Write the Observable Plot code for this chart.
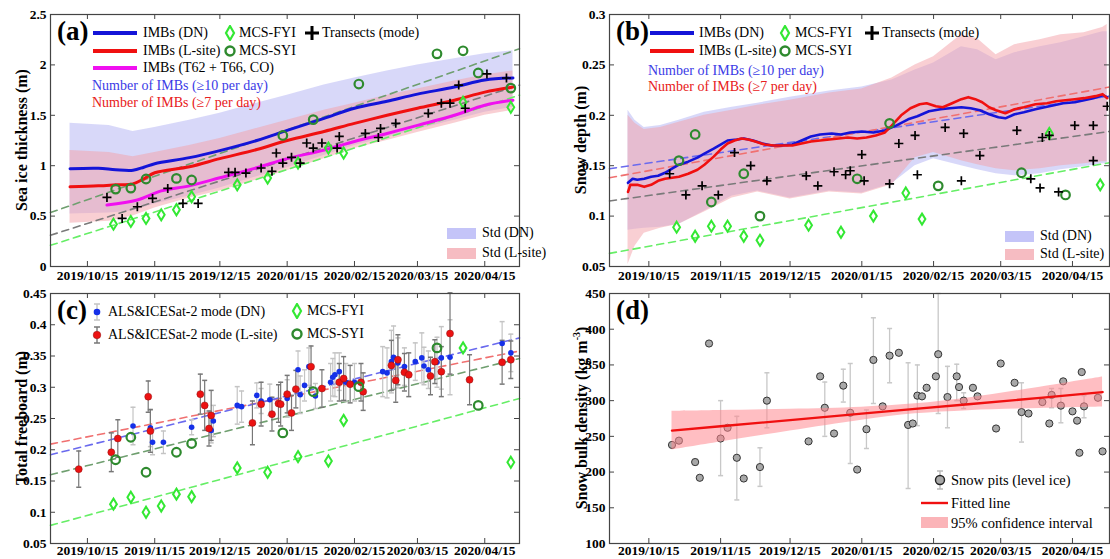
<!DOCTYPE html>
<html><head><meta charset="utf-8">
<script src="https://cdn.jsdelivr.net/npm/d3@7"></script>
<script src="https://cdn.jsdelivr.net/npm/@observablehq/plot@0.6"></script>
<style>
body{margin:0;background:#fff;font-family:"Liberation Serif","Times New Roman",serif;}
#wrap{position:relative;width:1110px;height:559px;overflow:hidden;background:#fff;}
#wrap svg{position:absolute;}
.t{position:absolute;white-space:nowrap;line-height:1;transform:translateY(-50%);font-size:14px;color:#000;}
.rot{position:absolute;white-space:nowrap;line-height:1;font-weight:bold;font-size:16px;transform:translate(-50%,-50%) rotate(-90deg);}
.let{position:absolute;font-weight:bold;font-size:27px;line-height:1;}
</style></head>
<body><div id="wrap"></div>
<script>
// ---------- shared axis data ----------
const xDomain = ["2019-09-28", "2020-05-01"];
const xTicks = ["2019-10-15","2019-11-15","2019-12-15","2020-01-15","2020-02-15","2020-03-15","2020-04-15"];
const yTicksA = [0, 0.5, 1, 1.5, 2, 2.5];
const yTicksB = [0.05, 0.1, 0.15, 0.2, 0.25, 0.3];
const yTicksC = [0.05, 0.1, 0.15, 0.2, 0.25, 0.3, 0.35, 0.4, 0.45];
const yTicksD = [100, 150, 200, 250, 300, 350, 400, 450];

// ---------- panel (a): sea ice thickness ----------
const aImbDates = ["2019-10-07","2019-10-20","2019-10-28","2019-11-05","2019-11-10","2019-11-15","2019-12-01","2019-12-15","2020-01-01","2020-01-15","2020-02-01","2020-02-15","2020-03-01","2020-03-15","2020-04-01","2020-04-15","2020-04-28"];
const aDN    = [0.97,0.975,0.96,0.955,0.985,1.02,1.08,1.15,1.25,1.35,1.47,1.57,1.64,1.71,1.78,1.85,1.87];
const aLsite = [0.79,0.80,0.81,0.82,0.87,0.93,0.99,1.07,1.16,1.25,1.34,1.42,1.50,1.57,1.65,1.73,1.78];
const aCoDates = ["2019-10-24","2019-11-07","2019-11-18","2019-12-01","2019-12-15","2020-01-01","2020-01-15","2020-01-31","2020-02-15","2020-03-01","2020-03-15","2020-04-01","2020-04-15","2020-04-28"];
const aCo = [0.61,0.66,0.75,0.80,0.88,0.98,1.07,1.15,1.24,1.32,1.40,1.50,1.60,1.65];
const aBandDates = ["2019-10-07","2019-10-25","2019-11-05","2019-11-15","2019-12-01","2019-12-15","2020-01-01","2020-01-15","2020-02-01","2020-02-15","2020-03-01","2020-03-15","2020-04-01","2020-04-15","2020-04-28"];
const aDNup = [1.42,1.40,1.34,1.38,1.45,1.52,1.62,1.70,1.80,1.87,1.94,2.00,2.06,2.11,2.14];
const aDNlo = [0.52,0.53,0.55,0.62,0.70,0.78,0.89,0.98,1.10,1.20,1.28,1.36,1.45,1.53,1.58];
const aLup  = [1.15,1.13,1.09,1.13,1.20,1.27,1.37,1.45,1.55,1.62,1.70,1.76,1.84,1.90,1.94];
const aLlo  = [0.43,0.45,0.50,0.58,0.68,0.75,0.86,0.95,1.07,1.17,1.25,1.33,1.42,1.50,1.55];
const fyiDates = ["2019-10-27","2019-11-04","2019-11-11","2019-11-18","2019-11-25","2019-12-02","2019-12-23","2020-01-06","2020-01-20","2020-02-03","2020-02-10","2020-04-05","2020-04-27"];
const aFyi = [0.42,0.447,0.477,0.513,0.563,0.692,0.81,0.877,1.027,1.175,1.126,1.63,1.58];
const syiDatesA = ["2019-10-28","2019-11-04","2019-11-11","2019-11-25","2019-12-02","2020-01-13","2020-01-27","2020-02-17","2020-03-24","2020-04-05","2020-04-12","2020-04-27"];
const aSyi = [0.768,0.778,0.868,0.874,0.858,1.30,1.457,1.81,2.11,2.14,1.92,1.77];
const aTrDates = ["2019-10-24","2019-10-31","2019-11-07","2019-11-14","2019-11-21","2019-11-28","2019-12-05","2019-12-19","2019-12-22","2019-12-27","2020-01-03","2020-01-08","2020-01-10","2020-01-13","2020-01-17","2020-01-21","2020-01-24","2020-01-27","2020-01-31","2020-02-07","2020-02-08","2020-02-20","2020-02-26","2020-02-27","2020-03-05","2020-03-20","2020-03-26","2020-03-30","2020-04-03","2020-04-06","2020-04-16","2020-04-25"];
const aTr = [0.685,0.477,0.593,0.675,0.775,0.626,0.626,0.934,0.934,0.927,0.977,0.944,1.126,1.026,1.083,1.026,1.225,1.175,1.225,1.175,1.29,1.32,1.28,1.37,1.42,1.52,1.62,1.62,1.80,1.57,1.91,1.87];
const aFitSyi = [0.535, 2.16];
const aFitTr  = [0.31, 1.80];
const aFitFyi = [0.21, 1.70];

// ---------- panel (b): snow depth ----------
const bDNDates = ["2019-10-06","2019-10-08","2019-10-10","2019-10-13","2019-10-16","2019-10-19","2019-10-22","2019-10-25","2019-10-28","2019-11-01","2019-11-05","2019-11-08","2019-11-12","2019-11-15","2019-11-18","2019-11-22","2019-11-25","2019-11-29","2019-12-03","2019-12-07","2019-12-11","2019-12-16","2019-12-20","2019-12-24","2019-12-28","2020-01-02","2020-01-06","2020-01-10","2020-01-15","2020-01-20","2020-01-25","2020-01-30","2020-02-04","2020-02-08","2020-02-13","2020-02-18","2020-02-22","2020-02-27","2020-03-02","2020-03-06","2020-03-10","2020-03-14","2020-03-17","2020-03-21","2020-03-25","2020-03-30","2020-04-03","2020-04-07","2020-04-11","2020-04-16","2020-04-20","2020-04-24","2020-04-28","2020-04-30"];
const bDN = [0.133,0.137,0.136,0.137,0.139,0.140,0.143,0.147,0.151,0.154,0.158,0.162,0.167,0.171,0.175,0.176,0.177,0.175,0.172,0.170,0.170,0.171,0.175,0.179,0.181,0.182,0.181,0.183,0.184,0.183,0.185,0.190,0.196,0.199,0.204,0.206,0.207,0.208,0.207,0.205,0.201,0.198,0.197,0.201,0.203,0.206,0.208,0.210,0.212,0.213,0.215,0.217,0.220,0.218];
const bLDates = ["2019-10-06","2019-10-07","2019-10-10","2019-10-13","2019-10-16","2019-10-19","2019-10-22","2019-10-25","2019-10-28","2019-11-01","2019-11-05","2019-11-08","2019-11-12","2019-11-15","2019-11-18","2019-11-21","2019-11-24","2019-11-27","2019-11-30","2019-12-04","2019-12-08","2019-12-12","2019-12-16","2019-12-20","2019-12-24","2019-12-28","2020-01-01","2020-01-05","2020-01-09","2020-01-13","2020-01-17","2020-01-21","2020-01-25","2020-01-28","2020-02-01","2020-02-05","2020-02-09","2020-02-12","2020-02-16","2020-02-19","2020-02-23","2020-02-27","2020-03-01","2020-03-04","2020-03-07","2020-03-10","2020-03-13","2020-03-17","2020-03-21","2020-03-25","2020-03-30","2020-04-04","2020-04-08","2020-04-12","2020-04-16","2020-04-20","2020-04-25","2020-04-28","2020-04-30"];
const bL = [0.124,0.131,0.131,0.129,0.131,0.135,0.137,0.138,0.139,0.142,0.146,0.151,0.159,0.166,0.172,0.175,0.177,0.176,0.174,0.171,0.170,0.170,0.170,0.172,0.174,0.175,0.176,0.177,0.178,0.177,0.178,0.180,0.183,0.190,0.200,0.207,0.211,0.212,0.209,0.208,0.212,0.216,0.218,0.216,0.213,0.208,0.205,0.202,0.206,0.208,0.211,0.212,0.214,0.215,0.216,0.217,0.219,0.221,0.217];
const bBandDates = ["2019-10-06","2019-10-09","2019-10-13","2019-10-20","2019-10-28","2019-11-08","2019-11-20","2019-12-01","2019-12-15","2020-01-01","2020-01-15","2020-01-28","2020-02-07","2020-02-15","2020-02-27","2020-03-05","2020-03-13","2020-03-21","2020-04-01","2020-04-10","2020-04-20","2020-04-28","2020-04-30"];
const bDNup = [0.205,0.195,0.188,0.190,0.195,0.203,0.208,0.212,0.218,0.224,0.228,0.235,0.245,0.252,0.268,0.265,0.255,0.262,0.268,0.272,0.278,0.283,0.283];
const bDNlo = [0.086,0.087,0.088,0.089,0.092,0.105,0.120,0.125,0.118,0.125,0.123,0.132,0.150,0.157,0.150,0.146,0.142,0.140,0.142,0.146,0.149,0.152,0.152];
const bLup  = [0.200,0.192,0.186,0.188,0.193,0.200,0.205,0.210,0.215,0.222,0.226,0.237,0.250,0.258,0.280,0.276,0.260,0.270,0.275,0.280,0.282,0.287,0.290];
const bLlo  = [0.052,0.070,0.083,0.088,0.092,0.104,0.118,0.124,0.117,0.124,0.122,0.131,0.158,0.163,0.155,0.151,0.147,0.145,0.147,0.150,0.152,0.154,0.154];
const bFyi = [0.089,0.080,0.090,0.090,0.080,0.076,0.091,0.084,0.100,0.123,0.097,0.182,0.131];
const syiDatesB = ["2019-10-28","2019-11-04","2019-11-11","2019-11-25","2019-12-02","2020-01-13","2020-01-27","2020-02-17","2020-03-24","2020-04-12"];
const bSyi = [0.155,0.181,0.114,0.142,0.100,0.137,0.192,0.130,0.143,0.121];
const bTrDates = ["2019-10-24","2019-10-31","2019-11-07","2019-11-14","2019-11-21","2019-11-28","2019-12-05","2019-12-22","2019-12-27","2020-01-03","2020-01-08","2020-01-10","2020-01-15","2020-01-16","2020-01-27","2020-01-31","2020-02-07","2020-02-08","2020-02-20","2020-02-27","2020-02-28","2020-03-06","2020-03-22","2020-03-28","2020-04-01","2020-04-02","2020-04-05","2020-04-09","2020-04-16","2020-04-24","2020-04-24","2020-04-30"];
const bTr = [0.142,0.121,0.130,0.121,0.163,0.150,0.135,0.140,0.130,0.144,0.141,0.145,0.161,0.135,0.132,0.172,0.180,0.141,0.188,0.135,0.182,0.160,0.185,0.137,0.128,0.178,0.180,0.124,0.190,0.155,0.190,0.209];
const bFitDN = [0.147, 0.219];
const bFitL  = [0.138, 0.228];
const bFitTr = [0.115, 0.184];
const bFitFyi = [0.063, 0.153];

// ---------- panel (c): total freeboard ----------
const cDNDates = ["2019-11-05","2019-11-13","2019-11-14","2019-11-19","2019-12-02","2019-12-11","2019-12-12","2019-12-23","2019-12-25","2020-01-01","2020-01-03","2020-01-07","2020-01-15","2020-01-20","2020-01-21","2020-01-23","2020-01-25","2020-01-28","2020-02-04","2020-02-05","2020-02-06","2020-02-08","2020-02-11","2020-02-15","2020-02-28","2020-03-01","2020-03-03","2020-03-04","2020-03-06","2020-03-09","2020-03-14","2020-03-17","2020-03-18","2020-03-20","2020-03-24","2020-03-26","2020-03-30","2020-04-23","2020-04-27"];
const cDN    = [0.238,0.235,0.212,0.212,0.236,0.231,0.246,0.271,0.269,0.287,0.278,0.280,0.282,0.328,0.288,0.303,0.333,0.286,0.308,0.316,0.320,0.325,0.308,0.308,0.325,0.323,0.341,0.348,0.339,0.333,0.341,0.347,0.334,0.328,0.340,0.347,0.348,0.370,0.355];
const cDNerr = [0.030,0.030,0.020,0.018,0.012,0.020,0.025,0.030,0.025,0.020,0.020,0.025,0.030,0.030,0.030,0.025,0.030,0.020,0.030,0.030,0.035,0.030,0.030,0.030,0.040,0.040,0.050,0.050,0.040,0.030,0.030,0.040,0.030,0.030,0.040,0.050,0.060,0.035,0.030];
const cLDates = ["2019-10-11","2019-10-26","2019-10-29","2019-11-12","2019-11-13","2019-12-06","2019-12-08","2019-12-10","2019-12-11","2019-12-30","2020-01-03","2020-01-08","2020-01-11","2020-01-12","2020-01-15","2020-01-17","2020-01-19","2020-01-26","2020-01-31","2020-02-08","2020-02-10","2020-02-13","2020-02-18","2020-02-19","2020-03-03","2020-03-05","2020-03-06","2020-03-09","2020-03-11","2020-03-21","2020-03-23","2020-03-26","2020-03-30","2020-04-08","2020-04-23","2020-04-27"];
const cL    = [0.169,0.196,0.218,0.285,0.230,0.289,0.271,0.234,0.255,0.243,0.273,0.257,0.274,0.273,0.289,0.259,0.297,0.333,0.298,0.308,0.314,0.305,0.308,0.293,0.335,0.311,0.344,0.324,0.320,0.318,0.341,0.325,0.386,0.312,0.340,0.344];
const cLerr = [0.029,0.031,0.030,0.025,0.034,0.032,0.040,0.028,0.040,0.035,0.035,0.027,0.030,0.035,0.030,0.028,0.030,0.033,0.030,0.030,0.035,0.030,0.030,0.030,0.040,0.035,0.040,0.030,0.035,0.030,0.035,0.040,0.065,0.040,0.035,0.030];
const cFyi = [0.113,0.124,0.100,0.110,0.129,0.125,0.171,0.164,0.189,0.182,0.247,0.363,0.180];
const cSyi = [0.184,0.220,0.164,0.196,0.210,0.227,0.293,0.301,0.363,0.271];
const cFitDN = [0.192, 0.379];
const cFitL  = [0.209, 0.358];
const cFitSyi = [0.160, 0.346];
const cFitFyi = [0.079, 0.282];

// ---------- panel (d): snow bulk density ----------
const dDates = ["2019-10-25","2019-10-28","2019-11-04","2019-11-06","2019-11-10","2019-11-15","2019-11-18","2019-11-22","2019-11-25","2019-12-02","2019-12-05","2019-12-23","2019-12-28","2019-12-30","2020-01-03","2020-01-07","2020-01-10","2020-01-13","2020-01-17","2020-01-20","2020-01-24","2020-01-27","2020-01-31","2020-02-04","2020-02-06","2020-02-08","2020-02-10","2020-02-12","2020-02-16","2020-02-17","2020-02-21","2020-02-25","2020-02-26","2020-02-28","2020-03-03","2020-03-05","2020-03-13","2020-03-15","2020-03-21","2020-03-24","2020-03-27","2020-04-02","2020-04-05","2020-04-06","2020-04-10","2020-04-11","2020-04-15","2020-04-17","2020-04-18","2020-04-19","2020-04-20","2020-04-26","2020-04-28"];
const dRho = [238,244,214,192,380,247,262,220,191,207,300,243,334,290,254,321,283,203.5,260,357,292,363,367,266,268,307,306,318,334,365,305,334,319,300,318,306,261,352,325,284,282,298,268,308,293,327,285,272,227,340,292,304,229];
const dLo  = [null,null,210,null,null,195,null,161,null,180,262,null,null,250,null,298,212,null,233,296,null,325,null,177,null,265,null,null,null,282,262,300,null,289,null,null,null,null,null,242,null,null,null,290,269,null,null,null,null,null,276,null,null];
const dHi  = [null,null,218,null,null,300,null,278,null,234,339,null,null,326,null,344,352,null,287,416,null,401,null,353,null,350,null,null,null,450,348,351,null,311,null,null,null,null,null,325,null,null,null,317,317,null,null,null,null,null,307,null,null];
const dFitDates = ["2019-10-25","2019-11-15","2019-12-15","2020-01-15","2020-02-07","2020-03-01","2020-04-01","2020-04-28"];
const dFit   = [258,264.1,272.8,281.8,288.5,294.9,303.9,312];
const dCiLo  = [231,242.1,257.6,272.7,281.5,286.0,289.0,291];
const dCiHi  = [285,286.1,288.0,290.9,295.5,303.8,318.8,333];

// ---------- helpers ----------
const P = s => new Date(s + "T00:00:00Z");
const pts = (dates, vals) => dates.map((d, i) => ({x: P(d), y: vals[i]}));
const band = (dates, lo, hi) => dates.map((d, i) => ({x: P(d), lo: lo[i], hi: hi[i]}));
const fit = v => [{x: P(xDomain[0]), y: v[0]}, {x: P(xDomain[1]), y: v[1]}];
const errs = (dates, vals, e) => dates.map((d, i) => ({x: P(d), y: vals[i], lo: vals[i] - e[i], hi: vals[i] + e[i]}));

const plusSym = {draw(c, s){const r = Math.sqrt(s/Math.PI); c.moveTo(-r,0); c.lineTo(r,0); c.moveTo(0,-r); c.lineTo(0,r);}};
const capSym  = {draw(c, s){const r = Math.sqrt(s/Math.PI); c.moveTo(-r,0); c.lineTo(r,0);}};
const diaSym  = {draw(c, s){const r = Math.sqrt(s/Math.PI); const w = r*0.62; c.moveTo(0,-r); c.lineTo(w,0); c.lineTo(0,r); c.lineTo(-w,0); c.closePath();}};

const C = {blue:"#1414d8", red:"#f01010", mag:"#f010f0", fyi:"#33e833", syi:"#2e8a2e",
  dnBand:"#a8a8f2", lBand:"#f3a0a8", dashDN:"#6a6aee", dashL:"#f07070", dashSyi:"#6f9f6f", dashTr:"#7a7a7a", dashFyi:"#66ee66"};
const dash = (data, color) => Plot.line(data, {x:"x", y:"y", stroke: color, strokeWidth: 1.6, strokeDasharray: "7,5"});
const fyiDots = data => Plot.dot(data, {x:"x", y:"y", symbol: diaSym, r: 5.5, stroke: C.fyi, strokeWidth: 2, fill: "none"});
const syiDots = data => Plot.dot(data, {x:"x", y:"y", r: 4.3, stroke: C.syi, strokeWidth: 2.2, fill: "none"});
const trDots = data => Plot.dot(data, {x:"x", y:"y", symbol: plusSym, r: 4.5, stroke: "#000", strokeWidth: 1.7, fill: "none"});

const wrap = document.getElementById("wrap");
function panel({left, top, width, height, ml, mr, mt, mb, pad, yDomain, yTicks, marks}) {
  const W = width - ml - mr, H = height - mt - mb;
  const xt = xTicks.map(P);
  const svg = Plot.plot({
    width, height, marginLeft: ml, marginRight: mr, marginTop: mt, marginBottom: mb,
    x: {type: "utc", domain: xDomain.map(P)},
    y: {domain: yDomain},
    style: {fontFamily: "'Liberation Serif', 'Times New Roman', serif", fontSize: "13.5px", fontWeight: "bold", color: "#000", background: "transparent", overflow: "visible"},
    marks: [
      ...marks,
      Plot.frame({stroke: "#444", strokeWidth: 1.2}),
      Plot.tickX(xt, {x: d => d, insetTop: H - 5, stroke: "#444"}),
      Plot.tickX(xt, {x: d => d, insetBottom: H - 5, stroke: "#444"}),
      Plot.tickY(yTicks, {y: d => d, insetRight: W - 5, stroke: "#444"}),
      Plot.tickY(yTicks, {y: d => d, insetLeft: W - 5, stroke: "#444"}),
      Plot.axisX(xt, {tickSize: 0, tickPadding: pad, tickFormat: d3.utcFormat("%Y/%m/%d"), label: null}),
      Plot.axisY(yTicks, {tickSize: 0, tickPadding: 4, tickFormat: d => String(d), label: null})
    ]
  });
  svg.style.left = left + "px"; svg.style.top = top + "px";
  wrap.appendChild(svg);
}

// (a)
panel({left: 0, top: 0, width: 545, height: 290, ml: 50, mr: 26, mt: 14, mb: 24, pad: 4, yDomain: [0, 2.5], yTicks: yTicksA, marks: [
  Plot.areaY(band(aBandDates, aDNlo, aDNup), {x: "x", y1: "lo", y2: "hi", fill: C.dnBand, fillOpacity: 0.45}),
  Plot.areaY(band(aBandDates, aLlo, aLup), {x: "x", y1: "lo", y2: "hi", fill: C.lBand, fillOpacity: 0.5}),
  dash(fit(aFitSyi), C.dashSyi), dash(fit(aFitTr), C.dashTr), dash(fit(aFitFyi), C.dashFyi),
  Plot.line(pts(aImbDates, aDN), {x: "x", y: "y", stroke: C.blue, strokeWidth: 3, curve: "catmull-rom"}),
  Plot.line(pts(aImbDates, aLsite), {x: "x", y: "y", stroke: C.red, strokeWidth: 3, curve: "catmull-rom"}),
  Plot.line(pts(aCoDates, aCo), {x: "x", y: "y", stroke: C.mag, strokeWidth: 3, curve: "catmull-rom"}),
  fyiDots(pts(fyiDates, aFyi)), syiDots(pts(syiDatesA, aSyi)), trDots(pts(aTrDates, aTr))
]});

// (b)
panel({left: 555, top: 0, width: 555, height: 290, ml: 54, mr: 1, mt: 14, mb: 24, pad: 4, yDomain: [0.05, 0.3], yTicks: yTicksB, marks: [
  Plot.areaY(band(bBandDates, bDNlo, bDNup), {x: "x", y1: "lo", y2: "hi", fill: C.dnBand, fillOpacity: 0.45}),
  Plot.areaY(band(bBandDates, bLlo, bLup), {x: "x", y1: "lo", y2: "hi", fill: C.lBand, fillOpacity: 0.5}),
  dash(fit(bFitDN), C.dashDN), dash(fit(bFitL), C.dashL), dash(fit(bFitTr), C.dashTr), dash(fit(bFitFyi), C.dashFyi),
  Plot.line(pts(bDNDates, bDN), {x: "x", y: "y", stroke: C.blue, strokeWidth: 2.6}),
  Plot.line(pts(bLDates, bL), {x: "x", y: "y", stroke: C.red, strokeWidth: 2.6}),
  fyiDots(pts(fyiDates, bFyi)), syiDots(pts(syiDatesB, bSyi)), trDots(pts(bTrDates, bTr))
]});

// (c)
const cDNe = errs(cDNDates, cDN, cDNerr), cLe = errs(cLDates, cL, cLerr);
panel({left: 0, top: 280, width: 545, height: 279, ml: 50, mr: 26, mt: 13, mb: 16, pad: 2, yDomain: [0.05, 0.45], yTicks: yTicksC, marks: [
  dash(fit(cFitL), C.dashL), dash(fit(cFitDN), C.dashDN), dash(fit(cFitSyi), C.dashSyi), dash(fit(cFitFyi), C.dashFyi),
  Plot.ruleX(cDNe, {x: "x", y1: "lo", y2: "hi", stroke: "#c4c4c4", strokeWidth: 1.2}),
  Plot.dot(cDNe, {x: "x", y: "lo", symbol: capSym, r: 2.5, stroke: "#c4c4c4", fill: "none"}),
  Plot.dot(cDNe, {x: "x", y: "hi", symbol: capSym, r: 2.5, stroke: "#c4c4c4", fill: "none"}),
  Plot.ruleX(cLe, {x: "x", y1: "lo", y2: "hi", stroke: "#777", strokeWidth: 1.2}),
  Plot.dot(cLe, {x: "x", y: "lo", symbol: capSym, r: 2.5, stroke: "#777", fill: "none"}),
  Plot.dot(cLe, {x: "x", y: "hi", symbol: capSym, r: 2.5, stroke: "#777", fill: "none"}),
  Plot.dot(cDNe, {x: "x", y: "y", r: 2.8, fill: "#1530e8", stroke: "none"}),
  Plot.dot(cLe, {x: "x", y: "y", r: 3.5, fill: "#ec1212", stroke: "#901010", strokeWidth: 0.5}),
  fyiDots(pts(fyiDates, cFyi)), syiDots(pts(syiDatesB, cSyi))
]});

// (d)
const dPts = dDates.map((d, i) => ({x: P(d), y: dRho[i], lo: dLo[i], hi: dHi[i]}));
const dErr = dPts.filter(d => d.lo != null);
panel({left: 555, top: 280, width: 555, height: 279, ml: 54, mr: 1, mt: 13, mb: 16, pad: 2, yDomain: [100, 450], yTicks: yTicksD, marks: [
  Plot.ruleX(dErr, {x: "x", y1: "lo", y2: "hi", stroke: "#c8c8c8", strokeWidth: 1.3}),
  Plot.dot(dErr, {x: "x", y: "lo", symbol: capSym, r: 2.5, stroke: "#c8c8c8", fill: "none"}),
  Plot.dot(dErr, {x: "x", y: "hi", symbol: capSym, r: 2.5, stroke: "#c8c8c8", fill: "none"}),
  Plot.dot(dPts, {x: "x", y: "y", r: 3.6, fill: "#a8a8a8", stroke: "#333", strokeWidth: 1}),
  Plot.areaY(band(dFitDates, dCiLo, dCiHi), {x: "x", y1: "lo", y2: "hi", fill: "#ff8890", fillOpacity: 0.55, curve: "catmull-rom"}),
  Plot.line(pts(dFitDates, dFit), {x: "x", y: "y", stroke: C.red, strokeWidth: 2.4})
]});

// ---------- text overlays & legends ----------
function txt(html, x, y, extra = "") {
  const d = document.createElement("div");
  d.className = "t"; d.innerHTML = html;
  d.style.cssText += `left:${x}px;top:${y}px;${extra}`;
  wrap.appendChild(d);
}
function icon(inner, x, y, w, h) {
  const s = document.createElementNS("http://www.w3.org/2000/svg", "svg");
  s.setAttribute("width", w); s.setAttribute("height", h);
  s.style.left = x + "px"; s.style.top = y + "px";
  s.innerHTML = inner; wrap.appendChild(s);
}
function rot(html, cx, cy) {
  const d = document.createElement("div"); d.className = "rot"; d.innerHTML = html;
  d.style.left = cx + "px"; d.style.top = cy + "px"; wrap.appendChild(d);
}
function letter(t, x, y) {
  const d = document.createElement("div"); d.className = "let"; d.textContent = t;
  d.style.left = x + "px"; d.style.top = y + "px"; wrap.appendChild(d);
}
const lineIc = (x, y, col) => icon(`<line x1="0" y1="4" x2="44" y2="4" stroke="${col}" stroke-width="4"/>`, x, y - 4, 44, 8);
const diaIc = (cx, cy) => icon(`<path d="M6,1 L10,8 L6,15 L2,8 Z" fill="none" stroke="${C.fyi}" stroke-width="2.2"/>`, cx - 6, cy - 8, 12, 16);
const cirIc = (cx, cy) => icon(`<circle cx="7" cy="7" r="4.5" fill="none" stroke="${C.syi}" stroke-width="2.4"/>`, cx - 7, cy - 7, 14, 14);
const plusIc = (cx, cy) => icon(`<path d="M1,8 H15 M8,1 V15" stroke="#000" stroke-width="3"/>`, cx - 8, cy - 8, 16, 16);
const rectIc = (x, y, col) => icon(`<rect x="0" y="0" width="29" height="11" fill="${col}"/>`, x, y - 5.5, 29, 11);

// y titles
rot("Sea ice thickness (m)", 22, 140);
rot("Snow depth (m)", 581, 140);
rot("Total freeboard (m)", 22, 418);
rot("Snow bulk density (kg m<sup style='font-size:10px'>-3</sup>)", 581, 418);

// (a) legend
letter("(a)", 57, 18);
lineIc(93, 33, C.blue); txt("IMBs (DN)", 143, 33);
lineIc(93, 51, C.red); txt("IMBs (L-site)", 143, 51);
lineIc(93, 68, C.mag); txt("IMBs (T62 + T66, CO)", 143, 68);
diaIc(230, 33); txt("MCS-FYI", 239, 33);
cirIc(230, 51); txt("MCS-SYI", 239, 51);
plusIc(312, 33); txt("Transects (mode)", 322, 33);
txt("Number of IMBs (≥10 per day)", 92, 86, "color:#3b3be6;");
txt("Number of IMBs (≥7 per day)", 92, 103, "color:#e82020;");
rectIc(447, 233, "#c4c4f8"); txt("Std (DN)", 482, 233);
rectIc(447, 253, "#f6bcc2"); txt("Std (L-site)", 482, 253);

// (b) legend
letter("(b)", 616, 18);
lineIc(650, 33, C.blue); txt("IMBs (DN)", 699, 33);
lineIc(650, 51, C.red); txt("IMBs (L-site)", 699, 51);
diaIc(785, 33); txt("MCS-FYI", 795, 33);
cirIc(785, 51); txt("MCS-SYI", 795, 51);
plusIc(872, 33); txt("Transects (mode)", 882, 33);
txt("Number of IMBs (≥10 per day)", 648, 71, "color:#3b3be6;");
txt("Number of IMBs (≥7 per day)", 648, 87, "color:#e82020;");
rectIc(1005, 236, "#c4c4f8"); txt("Std (DN)", 1040, 236);
rectIc(1005, 254, "#f6bcc2"); txt("Std (L-site)", 1040, 254);

// (c) legend
letter("(c)", 57, 297);
icon(`<path d="M6,1 V17 M3,1 H9 M3,17 H9" stroke="#c4c4c4" stroke-width="1.4"/><circle cx="6" cy="9" r="3.3" fill="#1530e8"/>`, 91, 303, 12, 18);
txt("ALS&amp;ICESat-2 mode (DN)", 108, 312);
icon(`<path d="M6,1 V17 M3,1 H9 M3,17 H9" stroke="#777" stroke-width="1.4"/><circle cx="6" cy="9" r="3.8" fill="#ec1212" stroke="#901010" stroke-width="0.5"/>`, 91, 326, 12, 18);
txt("ALS&amp;ICESat-2 mode (L-site)", 108, 335);
diaIc(297, 311); txt("MCS-FYI", 307, 311);
cirIc(297, 334); txt("MCS-SYI", 307, 334);

// (d) legend
letter("(d)", 616, 297);
icon(`<path d="M9,1 V19 M6,1 H12 M6,19 H12" stroke="#bbb" stroke-width="1.4"/><circle cx="9" cy="10" r="4.5" fill="#a8a8a8" stroke="#222" stroke-width="1.4"/>`, 931, 470, 18, 20);
txt("Snow pits (level ice)", 951, 480, "font-size:14.5px;");
icon(`<line x1="0" y1="3" x2="27" y2="3" stroke="${C.red}" stroke-width="2.4"/>`, 921, 500, 27, 6);
txt("Fitted line", 951, 503, "font-size:14.5px;");
icon(`<rect x="0" y="0" width="27" height="11" fill="#fbb4b8"/>`, 921, 517, 27, 11);
txt("95% confidence interval", 951, 523, "font-size:14.5px;");
</script>
</body></html>
